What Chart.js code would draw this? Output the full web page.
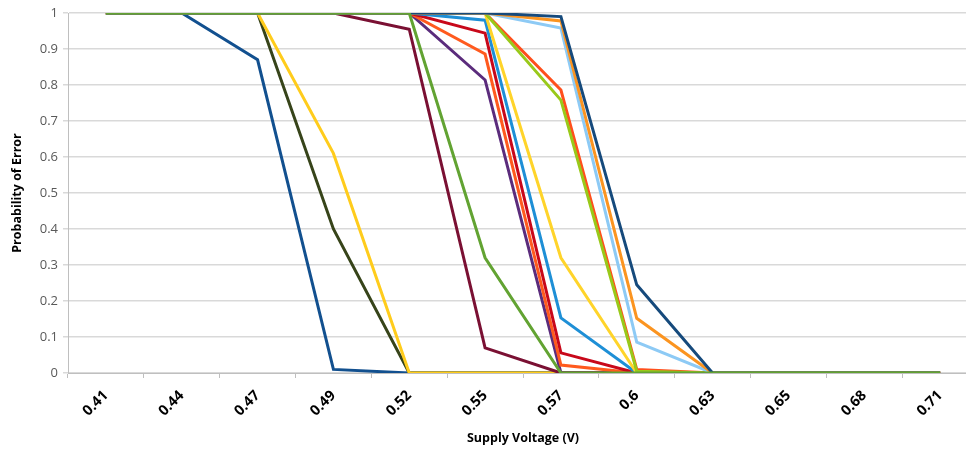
<!DOCTYPE html>
<html>
<head>
<meta charset="utf-8">
<script src="https://cdn.jsdelivr.net/npm/chart.js@4"></script>
<style>
  html, body { margin: 0; padding: 0; background: #fff; overflow: hidden; }
  #wrap { position: relative; width: 978px; height: 452px; }
</style>
</head>
<body>
<div id="wrap"><canvas id="errorChart"></canvas></div>
<script>
// Supply voltage categories
const voltages = ["0.41", "0.44", "0.47", "0.49", "0.52", "0.55", "0.57", "0.6", "0.63", "0.65", "0.68", "0.71"];

// Probability of error per curve (one value per voltage)
const navyA = [1, 1, 0.87, 0.01, 0, 0, 0, 0, 0, 0, 0, 0];
const olive = [1, 1, 1, 0.40, 0, 0, 0, 0, 0, 0, 0, 0];
const yellowA = [1, 1, 1, 0.61, 0, 0, 0, 0, 0, 0, 0, 0];
const maroon = [1, 1, 1, 1, 0.955, 0.07, 0, 0, 0, 0, 0, 0];
const purple = [1, 1, 1, 1, 1, 0.814, 0, 0, 0, 0, 0, 0];
const orangeRedA = [1, 1, 1, 1, 1, 0.886, 0.022, 0, 0, 0, 0, 0];
const red = [1, 1, 1, 1, 1, 0.944, 0.056, 0, 0, 0, 0, 0];
const blueB = [1, 1, 1, 1, 1, 0.98, 0.153, 0, 0, 0, 0, 0];
const yellowB = [1, 1, 1, 1, 1, 1, 0.32, 0, 0, 0, 0, 0];
const orangeRedB = [1, 1, 1, 1, 1, 1, 0.786, 0.01, 0, 0, 0, 0];
const yellowGreen = [1, 1, 1, 1, 1, 1, 0.758, 0.005, 0, 0, 0, 0];
const lightBlue = [1, 1, 1, 1, 1, 1, 0.958, 0.086, 0, 0, 0, 0];
const orange = [1, 1, 1, 1, 1, 1, 0.978, 0.152, 0, 0, 0, 0];
const navyB = [1, 1, 1, 1, 1, 1, 0.99, 0.245, 0, 0, 0, 0];
const green = [1, 1, 1, 1, 1, 0.32, 0, 0, 0, 0, 0, 0];

// drawn in this order, last one on top
const series = [
  { data: navyA, color: "#12508f" },
  { data: olive, color: "#37441a" },
  { data: yellowA, color: "#ffcc1c" },
  { data: maroon, color: "#7a1033" },
  { data: purple, color: "#5b2c7c" },
  { data: orangeRedA, color: "#ff5a1e" },
  { data: red, color: "#c8081a" },
  { data: blueB, color: "#1e8fd6" },
  { data: yellowB, color: "#ffd42a" },
  { data: orangeRedB, color: "#ff4f1c" },
  { data: yellowGreen, color: "#99c91a" },
  { data: lightBlue, color: "#8dcaf5" },
  { data: orange, color: "#fb9420" },
  { data: navyB, color: "#164a7c" },
  { data: green, color: "#62a332" },
];

const datasets = series.map((s, i) => ({
  label: "s" + (i + 1),
  data: s.data,
  borderColor: s.color,
  backgroundColor: s.color,
  borderWidth: 3,
  pointRadius: 0,
  tension: 0,
  order: series.length - i,
}));

const ctx = document.getElementById("errorChart").getContext("2d");

new Chart(ctx, {
  type: "line",
  data: { labels: voltages, datasets: datasets },
  options: {
    responsive: true,
    maintainAspectRatio: false,
    animation: false,
    layout: { padding: { left: 10, top: 13, right: 0, bottom: 6 } },
    plugins: {
      legend: { display: false },
      tooltip: { enabled: false },
    },
    scales: {
      x: {
        offset: true,
        grid: {
          offset: true,
          drawOnChartArea: false,
          drawTicks: true,
          tickLength: 5,
          color: "#bfbfbf",
        },
        border: { color: "#bfbfbf" },
        ticks: {
          minRotation: 45,
          maxRotation: 45,
          color: "#000",
          font: { family: "'Open Sans', sans-serif", size: 14.5, weight: "bold" },
          padding: 9,
        },
        title: {
          display: true,
          text: "Supply Voltage (V)",
          color: "#000",
          font: { family: "'Open Sans', sans-serif", size: 12.5, weight: "bold" },
          padding: { top: 4, bottom: 0 },
        },
        afterFit: (scale) => { scale.height = 452 - 373 - 6; },
      },
      y: {
        min: 0,
        max: 1,
        grid: {
          color: "#d9d9d9",
          lineWidth: 1.5,
          tickLength: 5,
        },
        border: { color: "#bfbfbf" },
        ticks: {
          stepSize: 0.1,
          color: "#595959",
          font: { family: "'Open Sans', sans-serif", size: 13 },
          padding: 5,
          callback: (v) => String(Math.round(v * 10) / 10),
        },
        title: {
          display: true,
          text: "Probability of Error",
          color: "#000",
          font: { family: "'Open Sans', sans-serif", size: 12.5, weight: "bold" },
          padding: 0,
        },
        afterFit: (scale) => { scale.width = 68 - 10; },
      },
    },
  },
});
</script>
</body>
</html>
